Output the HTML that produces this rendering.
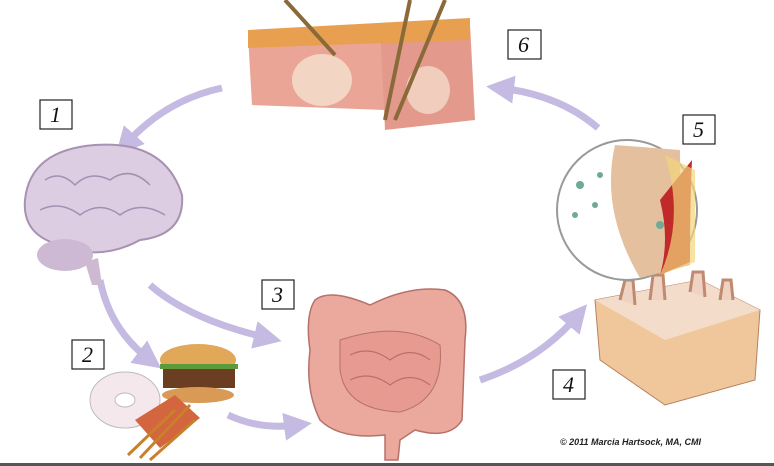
<!DOCTYPE html>
<html><head><style>
body{margin:0;background:#fff;}
svg{display:block}
.b{fill:#fff;stroke:#222;stroke-width:1.2}
.t{font-family:"Liberation Serif",serif;font-style:italic;font-size:22px;fill:#111}
</style></head><body>
<svg width="774" height="466" viewBox="0 0 774 466">
<defs>
<marker id="ah" markerWidth="4" markerHeight="4" refX="2" refY="2" orient="auto" markerUnits="strokeWidth"><path d="M0,0 L4,2 L0,4 z" fill="#c4bae2"/></marker>
</defs>
<rect width="774" height="466" fill="#fff"/>
<g fill="none" stroke="#c4bae2" stroke-width="7" marker-end="url(#ah)">
<path d="M222,88 Q165,100 125,145"/>
<path d="M150,285 Q190,320 268,338"/>
<path d="M100,280 Q110,330 150,360"/>
<path d="M228,415 Q260,430 298,425"/>
<path d="M480,380 Q540,360 578,315"/>
<path d="M598,128 Q560,95 500,88"/>
</g>
<!-- skin -->
<path d="M248,35 L380,28 L385,110 L252,105 Z" fill="#eaa597"/>
<path d="M380,28 L470,24 L475,120 L385,130 Z" fill="#e39a8c"/>
<path d="M248,30 L470,18 L470,40 L248,48 Z" fill="#e8a050"/>
<ellipse cx="322" cy="80" rx="30" ry="26" fill="#f3d5c4"/>
<ellipse cx="428" cy="90" rx="22" ry="24" fill="#f0cdbd"/>
<path d="M285,0 L335,55 M410,0 L385,120 M445,0 L395,120" stroke="#8a6a3a" stroke-width="4"/>
<!-- brain -->
<path d="M25,200 Q30,150 95,145 Q165,140 182,195 Q185,235 140,240 Q100,262 60,245 Q22,235 25,200Z" fill="#ddcde2" stroke="#a892b2" stroke-width="2"/>
<ellipse cx="65" cy="255" rx="28" ry="16" fill="#cdb9d3"/>
<path d="M85,262 L92,285 L102,285 L98,258Z" fill="#cdb9d0"/>
<g stroke="#a58fb0" stroke-width="1.5" fill="none">
<path d="M45,180 Q60,170 75,185 Q90,170 110,180 Q130,165 150,185"/>
<path d="M40,210 Q60,200 80,215 Q100,200 120,215 Q140,200 165,215"/>
</g>
<!-- food -->
<ellipse cx="125" cy="400" rx="35" ry="28" fill="#f5e8ec" stroke="#bbb"/>
<ellipse cx="125" cy="400" rx="10" ry="7" fill="#fff" stroke="#bbb"/>
<ellipse cx="198" cy="360" rx="38" ry="16" fill="#e2a85a"/>
<rect x="163" y="368" width="72" height="20" fill="#6b3e22"/>
<rect x="160" y="364" width="78" height="5" fill="#5d9a3a"/>
<ellipse cx="198" cy="395" rx="36" ry="8" fill="#d99a55"/>
<path d="M135,420 L175,395 L200,418 L160,448Z" fill="#d3663e"/>
<path d="M128,455 L175,410 M140,458 L190,405 M150,460 L195,420" stroke="#c9802a" stroke-width="3"/>
<!-- intestine -->
<path d="M315,300 Q330,288 370,305 Q410,285 445,290 Q470,300 465,340 L462,420 Q450,440 415,430 L400,440 L398,460 L385,460 L385,435 Q340,440 320,420 Q305,390 310,350 Q305,315 315,300Z" fill="#eba99d" stroke="#b7706a" stroke-width="1.5"/>
<path d="M340,340 Q400,320 440,345 Q445,400 400,412 Q345,410 340,370Z" fill="#e79a90" stroke="#b7706a"/>
<g stroke="#b7706a" fill="none" stroke-width="1.2">
<path d="M350,355 Q370,345 390,360 Q410,345 430,360"/>
<path d="M350,380 Q370,370 390,385 Q410,370 430,385"/>
</g>
<!-- villi -->
<path d="M595,300 L700,280 L760,310 L755,380 L665,405 L600,360Z" fill="#f0c79a" stroke="#b88060"/>
<path d="M595,300 L700,280 L760,310 L665,340Z" fill="#f4dccb"/>
<path d="M620,300 l5,-20 l8,0 l2,25 M650,300 l3,-25 l10,0 l2,25 M690,292 l3,-20 l10,0 l2,25 M720,300 l3,-20 l8,0 l2,20" stroke="#c08a70" stroke-width="3" fill="#efd2c2"/>
<!-- circle 5 -->
<circle cx="627" cy="210" r="70" fill="#fff" stroke="#999" stroke-width="2"/>
<path d="M615,145 Q600,210 640,278 L690,265 Q680,210 680,150 Z" fill="#e5c09f"/>
<path d="M660,200 Q670,240 660,275 L690,262 Q690,200 692,160Z" fill="#c02a2a"/>
<path d="M665,155 L695,170 L695,262 L660,275 Q685,220 665,155Z" fill="#f2d67a" opacity=".7"/>
<g fill="#6faa95"><circle cx="580" cy="185" r="4"/><circle cx="595" cy="205" r="3"/><circle cx="575" cy="215" r="3"/><circle cx="600" cy="175" r="3"/><circle cx="660" cy="225" r="4"/></g>
<!-- boxes -->
<rect class="b" x="508" y="30" width="33" height="29"/><text class="t" x="518" y="52">6</text>
<rect class="b" x="40" y="100" width="32" height="29"/><text class="t" x="50" y="122">1</text>
<rect class="b" x="683" y="115" width="32" height="29"/><text class="t" x="693" y="137">5</text>
<rect class="b" x="262" y="280" width="32" height="29"/><text class="t" x="272" y="302">3</text>
<rect class="b" x="72" y="340" width="32" height="29"/><text class="t" x="82" y="362">2</text>
<rect class="b" x="553" y="370" width="32" height="29"/><text class="t" x="563" y="392">4</text>
<text x="560" y="445" font-family="Liberation Sans,sans-serif" font-size="9" font-style="italic" font-weight="bold" fill="#222">© 2011 Marcia Hartsock, MA, CMI</text>
<rect x="0" y="463" width="774" height="3" fill="#555"/>
</svg>
</body></html>
